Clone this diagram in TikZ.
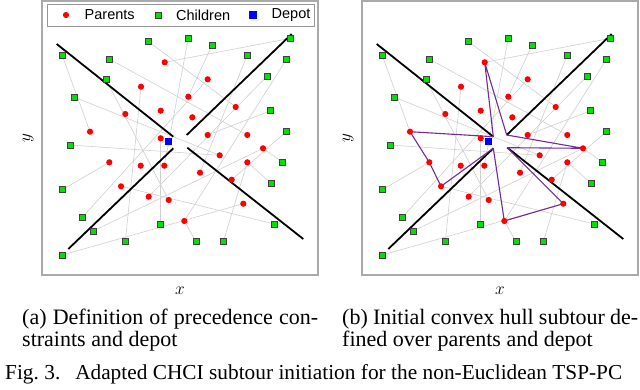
\documentclass[tikz,border=0pt]{standalone}
\usepackage{fontspec}
\setmainfont{Liberation Serif}
\newfontfamily\legfont{Liberation Sans}
\definecolor{chgreen}{RGB}{0,225,0}
\definecolor{linkgray}{RGB}{208,208,208}
\definecolor{tourpurple}{RGB}{112,45,150}
\definecolor{framegray}{RGB}{170,170,170}
\definecolor{legendgray}{RGB}{150,150,150}
\tikzset{
  glink/.style={draw=linkgray, line width=0.6pt},
  barrier/.style={draw=black, line width=1.8pt},
  tourline/.style={draw=tourpurple, line width=1.1pt, line join=round},
  parentdot/.style={circle, fill=red, inner sep=0pt, minimum size=6.2pt},
  childsq/.style={rectangle, draw=black!75, fill=chgreen, line width=0.7pt, inner sep=0pt, minimum size=5.8pt},
  depotsq/.style={rectangle, fill=blue, inner sep=0pt, minimum size=7.2pt},
  plotframe/.style={draw=framegray, line width=1.4pt},
  legendbox/.style={draw=legendgray, fill=white, line width=0.9pt},
  legtext/.style={anchor=west, inner sep=0pt, font=\legfont\fontsize{14.5}{16}\selectfont},
  axlabel/.style={inner sep=0pt, font=\fontsize{18}{20}\selectfont},
  captext/.style={anchor=base west, inner sep=0pt, font=\fontsize{22}{24}\selectfont},
  figtext/.style={anchor=base west, inner sep=0pt, font=\fontsize{21.3}{24}\selectfont},
}
\def\parentlist{164.7/62.3, 207.7/79.3, 141/86.7, 188.3/96.7, 235.7/107,
 160.7/110.7, 125.3/114, 192.3/117.3, 90/131.7, 207.7/135,
 247.3/135, 160.7/138.3, 263/148.3, 219.7/155.3, 109.3/162.3,
 140.7/165.7, 164.3/165.7, 247.3/162.3, 200/172.7, 231.7/179.7,
 121/186.3, 148.7/196.7, 168.7/200, 243.3/203.7, 184.3/221}
\def\childlist{148.7/41.7, 188.3/38.3, 212/45.3, 62.3/55.7, 109.3/59,
 247/55.7, 290.7/38.3, 286.7/59, 106/79.7, 267/76.3,
 74/97, 270.7/110.7, 286.7/131.3, 70/145, 282.7/162.3,
 271/183, 62.3/189.7, 82/217.7, 93.3/231, 160.7/224,
 274.3/224, 125.3/241.7, 196/241.7, 223.3/241.7, 62.3/255}
\def\linklist{1/7, 2/18, 3/22, 4/3, 5/1, 12/20, 13/15, 13/19, 14/14, 14/11,
 15/17, 17/2, 18/16, 18/24, 19/6, 20/13, 21/21, 22/10, 23/9, 24/25,
 25/8, 25/23, 10/12, 11/5, 9/4}
\newcommand\plotbase[1]{%
  \foreach \px/\py [count=\i] in \parentlist {\coordinate (#1p\i) at (\px,\py);}
  \foreach \px/\py [count=\i] in \childlist {\coordinate (#1c\i) at (\px,\py);}
  \coordinate (#1dep) at (168.3,141.7);
  \coordinate (#1la0) at (56.7,44);   \coordinate (#1la1) at (173.3,136.7);
  \coordinate (#1lb0) at (291.7,34);  \coordinate (#1lb1) at (186.7,135);
  \coordinate (#1lc0) at (68.3,249);  \coordinate (#1lc1) at (173.3,148.3);
  \coordinate (#1ld0) at (303.3,239); \coordinate (#1ld1) at (187.3,147.7);
  \draw[plotframe] (42,1) rectangle (318,275);
  \foreach \a/\b in \linklist {\draw[glink] (#1p\a) -- (#1c\b);}
  \draw[barrier] (#1la0) -- (#1la1);
  \draw[barrier] (#1lb0) -- (#1lb1);
  \draw[barrier] (#1lc0) -- (#1lc1);
  \draw[barrier] (#1ld0) -- (#1ld1);
}
\newcommand\plotmarkers[1]{%
  \foreach \i in {1,...,25} {\node[childsq] (#1C\i) at (#1c\i) {};}
  \foreach \i in {1,...,25} {\node[parentdot] (#1P\i) at (#1p\i) {};}
  \node[depotsq] (#1D) at (#1dep) {};
}
\begin{document}
\begin{tikzpicture}[x=1pt,y=-1pt]
\useasboundingbox[fill=white] (0,0) rectangle (640,390);
% left plot
\plotbase{L}
\plotmarkers{L}
% legend
\draw[legendbox] (47,4) rectangle (314,26);
\node[parentdot] (legP) at (66,15) {};
\node[legtext] (legPt) at (84.5,15) {Parents};
\node[childsq] (legC) at (158,15) {};
\node[legtext] (legCt) at (176,15) {Children};
\node[depotsq] (legD) at (253,15) {};
\node[legtext] (legDt) at (271.5,15) {Depot};
% right plot
\begin{scope}[xshift=320pt]
\plotbase{R}
\draw[tourline] (Rp9) -- (Rp15) -- (Rp21) -- (Rlc1) -- (Rp25) -- (Rp24) -- (Rld1)
  -- (Rp13) -- (Rlb1) -- (Rp1) -- (Rla1) -- cycle;
\plotmarkers{R}
\end{scope}
% axis labels
\node[axlabel] (xl) at (180,291) {$x$};
\node[axlabel] (xr) at (500,291) {$x$};
\node[axlabel, rotate=90] (yl) at (28,138) {$y$};
\node[axlabel, rotate=90] (yr) at (348,138) {$y$};
% captions
\node[captext] (capa1) at (22,324) {\hbox to 296pt{(a) Definition of precedence con-}};
\node[captext] (capa2) at (22,346) {straints and depot};
\node[captext] (capb1) at (342,324) {\hbox to 296pt{(b) Initial convex hull subtour de-}};
\node[captext] (capb2) at (342,346) {fined over parents and depot};
\node[figtext] (capfig) at (5,379) {\hbox to 617pt{Fig.~3.\hskip 0.7em Adapted CHCI subtour initiation for the non-Euclidean TSP-PC}};
\end{tikzpicture}
\end{document}
